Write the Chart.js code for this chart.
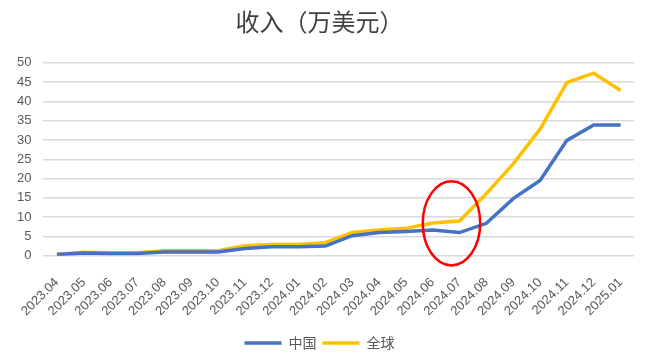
<!DOCTYPE html>
<html><head><meta charset="utf-8">
<script src="https://cdn.jsdelivr.net/npm/chart.js@4"></script>
<style>html,body{margin:0;padding:0;background:#fff}#wrap{width:648px;height:360px}</style>
</head><body><div id="wrap"><canvas id="c"></canvas></div>
<script>
const months = ["2023.04","2023.05","2023.06","2023.07","2023.08","2023.09","2023.10","2023.11","2023.12","2024.01","2024.02","2024.03","2024.04","2024.05","2024.06","2024.07","2024.08","2024.09","2024.10","2024.11","2024.12","2025.01"];
const china = [0.3,0.7,0.6,0.6,1.0,1.0,1.0,1.9,2.3,2.3,2.5,5.2,6.0,6.3,6.7,6.0,8.4,14.8,19.5,29.9,33.9,33.9];
const world = [0.4,0.9,0.8,0.8,1.3,1.3,1.3,2.6,2.9,2.9,3.4,6.0,6.7,7.1,8.5,9.0,16.1,23.8,32.8,44.9,47.3,42.8];
const yTicks = [0,5,10,15,20,25,30,35,40,45,50];
const highlight = {center: 14.7, value: 8.4, halfWidth: 1.07, halfHeight: 10.9};

const ellipsePlugin = {
  id: 'ellipse',
  afterDatasetsDraw(chart) {
    const {ctx, scales:{x, y}} = chart;
    const cx = x.getPixelForValue(highlight.center);
    const cy = y.getPixelForValue(highlight.value);
    const rx = Math.abs(x.getPixelForValue(highlight.center + highlight.halfWidth) - cx);
    const ry = Math.abs(y.getPixelForValue(highlight.value + highlight.halfHeight) - cy);
    ctx.save();
    ctx.beginPath();
    ctx.ellipse(cx, cy, rx, ry, 0, 0, Math.PI*2);
    ctx.strokeStyle = '#FF0000';
    ctx.lineWidth = 2.5;
    ctx.stroke();
    ctx.restore();
  }
};

new Chart(document.getElementById('c'), {
  type: 'line',
  data: {
    labels: months,
    datasets: [
      {label:'中国', data: china, borderColor:'#4472C4', backgroundColor:'#4472C4', borderWidth:3.5, pointRadius:0, tension:0},
      {label:'全球', data: world, borderColor:'#FFC000', backgroundColor:'#FFC000', borderWidth:3.5, pointRadius:0, tension:0}
    ]
  },
  options: {
    responsive:true, maintainAspectRatio:false, animation:false,
    layout:{padding:{left:5,right:14,top:4,bottom:0}},
    plugins:{
      title:{display:true, text:'收入（万美元）', color:'#404040', font:{family:'"Noto Sans CJK SC"', size:24, weight:'normal'}, padding:{top:3,bottom:27}},
      legend:{position:'bottom', labels:{usePointStyle:true, pointStyle:'line', pointStyleWidth:37, color:'#595959', font:{family:'"Noto Sans CJK SC"', size:14}, padding:6}},
      tooltip:{enabled:false}
    },
    scales:{
      x:{offset:true, grid:{display:false}, border:{display:false},
         ticks:{color:'#595959', font:{family:'"Liberation Sans"', size:13}, maxRotation:45, minRotation:45, autoSkip:false, padding:11}},
      y:{min:0, max:50, border:{display:false},
         afterBuildTicks(s){ s.ticks = yTicks.map(v=>({value:v})); },
         grid:{color:'#D9D9D9', lineWidth:1.5, drawTicks:false},
         ticks:{color:'#595959', font:{family:'"Liberation Sans"', size:13}, padding:12}}
    }
  },
  plugins:[ellipsePlugin]
});
</script></body></html>
